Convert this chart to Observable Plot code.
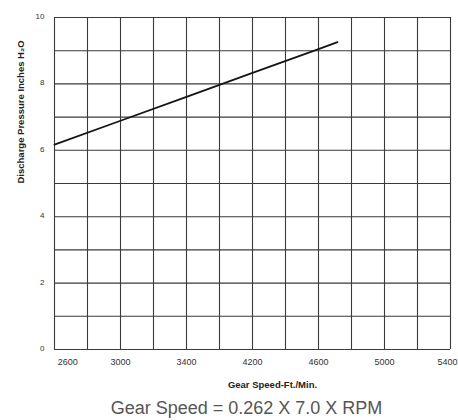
<!DOCTYPE html>
<html>
<head>
<meta charset="utf-8">
<script src="https://cdn.jsdelivr.net/npm/d3@7"></script>
<script src="https://cdn.jsdelivr.net/npm/@observablehq/plot@0.6"></script>
<style>
  html, body { margin: 0; padding: 0; background: #fff; }
  #caption {
    font-family: "Liberation Sans", Arial, sans-serif;
    font-size: 18px;
    color: #555;
    text-align: center;
    padding-left: 35px;
    margin-top: 0px;
    line-height: 20px;
    width: 423px;
    white-space: nowrap;
  }
</style>
</head>
<body>
<div id="chart"></div>
<div id="caption"></div>
<script>
// ---- data ----
const xTickLabels = [2600, 3000, 3400, 4200, 4600, 5000, 5400];
const yTickLabels = [0, 2, 4, 6, 8, 10];
// gear speed at each vertical grid line (13 lines, as implied by the printed labels)
const gridSpeeds = [2500, 2750, 3000, 3200, 3400, 3800, 4200, 4400, 4600, 4800, 5000, 5200, 5400];
const gridPressures = [0, 1, 2, 3, 4, 5, 6, 7, 8, 9, 10];
// speeds where the printed scale changes its step, and the grid column they sit on
const scaleBreaks = [2500, 3000, 3400, 4200, 5400];
const breakColumns = [0, 2, 4, 6, 12];
// the curve
const lineSpeed = [2500, 3000, 3400, 4200, 4600, 4715];
const linePressure = [6.17, 6.89, 7.61, 8.33, 9.05, 9.26];
const xLabel = "Gear Speed-Ft./Min.";
const yLabel = "Discharge Pressure Inches H\u2082O";
const captionText = "Gear Speed = 0.262 X 7.0 X RPM";

const curve = lineSpeed.map((s, i) => ({speed: s, pressure: linePressure[i]}));

const W = 458, H = 398, mL = 54, mR = 8, mT = 17, mB = 49;
const colW = (W - mL - mR) / 12;
const font = "Liberation Sans, Arial, sans-serif";
const lastTick = xTickLabels[xTickLabels.length - 1];

const chart = Plot.plot({
  width: W,
  height: H,
  marginLeft: mL,
  marginRight: mR,
  marginTop: mT,
  marginBottom: mB,
  style: {fontFamily: font, background: "white"},
  x: {type: "linear", domain: scaleBreaks, range: breakColumns.map(c => mL + c * colW)},
  y: {domain: [0, 10]},
  marks: [
    Plot.ruleY(gridPressures, {stroke: "#3a3a3a", strokeWidth: 1.1}),
    Plot.ruleX(gridSpeeds, {stroke: "#3a3a3a", strokeWidth: 1.1}),
    Plot.line(curve, {x: "speed", y: "pressure", stroke: "#151515", strokeWidth: 1.8}),
    Plot.axisX({ticks: xTickLabels.slice(0, -1), tickSize: 0, tickPadding: 9, tickFormat: d => String(d),
                fontSize: 9, fill: "#333", label: null}),
    Plot.axisX({ticks: [lastTick], tickSize: 0, tickPadding: 9, tickFormat: d => String(d),
                fontSize: 9, fill: "#333", label: null, textAnchor: "end", dx: 7}),
    Plot.axisY({ticks: yTickLabels, tickSize: 0, tickPadding: 10, tickFormat: d => String(d),
                fontSize: 8, fill: "#333", dy: -1, label: null}),
    Plot.text([xLabel], {text: d => d, frameAnchor: "bottom", dx: 20, dy: 38,
                fontWeight: "bold", fontSize: 9.5, fill: "#222"}),
    Plot.text([yLabel], {text: d => d, frameAnchor: "left", dx: -34, rotate: -90,
                fontWeight: "bold", fontSize: 9.5, fill: "#222"})
  ]
});
document.getElementById("chart").appendChild(chart);
document.getElementById("caption").textContent = captionText;
</script>
</body>
</html>
